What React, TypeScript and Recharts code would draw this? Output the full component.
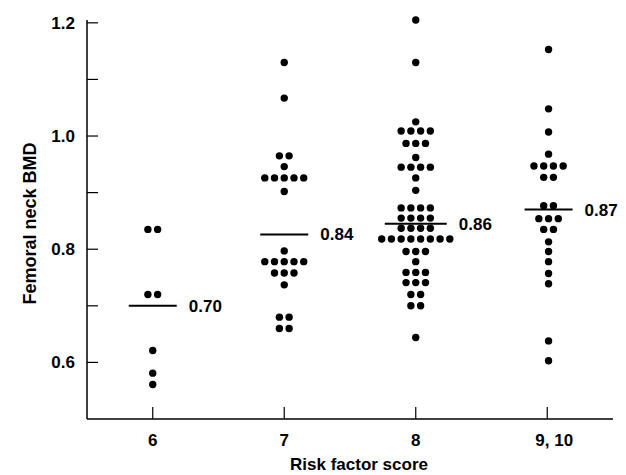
import React from "react";
import {
  ScatterChart,
  Scatter,
  XAxis,
  YAxis,
} from "recharts";

// risk factor score groups on the x axis
const categories = ["6", "7", "8", "9, 10"];
const groupX = [6, 7, 8, 9.01];

// femoral neck BMD per subject (equal values share a row)
const score6 = [0.835, 0.835, 0.72, 0.72, 0.621, 0.581, 0.561];
const score7 = [
  1.13, 1.067, 0.965, 0.965, 0.946, 0.926, 0.926, 0.926, 0.926, 0.926, 0.902,
  0.797, 0.778, 0.778, 0.778, 0.778, 0.778, 0.758, 0.758, 0.758, 0.737, 0.68,
  0.68, 0.66, 0.66,
];
const score8 = [
  1.205, 1.13, 1.025, 1.009, 1.009, 1.009, 1.009, 0.987, 0.987, 0.987, 0.962,
  0.945, 0.945, 0.945, 0.945, 0.926, 0.904, 0.873, 0.873, 0.873, 0.873, 0.855,
  0.855, 0.855, 0.855, 0.837, 0.837, 0.837, 0.837, 0.818, 0.818, 0.818, 0.818,
  0.818, 0.818, 0.818, 0.818, 0.796, 0.796, 0.796, 0.778, 0.759, 0.759, 0.759,
  0.741, 0.741, 0.741, 0.72, 0.72, 0.70, 0.70, 0.644,
];
const score9 = [
  1.153, 1.048, 1.007, 0.968, 0.947, 0.947, 0.947, 0.947, 0.927, 0.927, 0.877,
  0.877, 0.854, 0.854, 0.854, 0.835, 0.835, 0.813, 0.796, 0.778, 0.757, 0.739,
  0.638, 0.603,
];
const groups = [score6, score7, score8, score9];

// group mean bars (position as drawn) and their printed labels
const meanY = [0.7, 0.826, 0.845, 0.87];
const meanLabels = ["0.70", "0.84", "0.86", "0.87"];

const yTicks = [0.6, 0.7, 0.8, 0.9, 1.0, 1.1, 1.2];
const yLabels = ["0.6", "", "0.8", "", "1.0", "", "1.2"];

const FONT = "'Liberation Sans', Arial, sans-serif";
const DOT_STEP = 0.074; // horizontal spacing of dots in a row, in x units

// beeswarm: dots with the same value are spread out side by side
const dots = groups.flatMap((vals, g) => {
  const counts: Record<string, number> = {};
  vals.forEach((v) => (counts[v] = (counts[v] || 0) + 1));
  const seen: Record<string, number> = {};
  return vals.map((v) => {
    const i = seen[v] || 0;
    seen[v] = i + 1;
    return { x: groupX[g] + (i - (counts[v] - 1) / 2) * DOT_STEP, y: v };
  });
});

const means = meanY.map((y, i) => ({
  x: groupX[i],
  y,
  label: meanLabels[i],
  half: i === 2 ? 31 : 24,
}));

const XTick = (props: any) => {
  const { x, y, payload, index } = props;
  return (
    <g>
      <line x1={x} y1={y} x2={x} y2={y - 12} stroke="#000" strokeWidth={1.2} />
      <text
        x={x + (index === 3 ? 7 : 0)}
        y={y + 27}
        textAnchor="middle"
        fontFamily={FONT}
        fontWeight="bold"
        fontSize={17}
        fill="#000"
      >
        {categories[index] ?? payload.value}
      </text>
    </g>
  );
};

const YTick = (props: any) => {
  const { x, y, index } = props;
  return (
    <g>
      <line x1={x} y1={y} x2={x + 11} y2={y} stroke="#000" strokeWidth={1.2} />
      <text
        x={x - 12}
        y={y + 6}
        textAnchor="end"
        fontFamily={FONT}
        fontWeight="bold"
        fontSize={17}
        fill="#000"
      >
        {yLabels[index]}
      </text>
    </g>
  );
};

const Dot = (props: any) => <circle cx={props.cx} cy={props.cy} r={3.7} fill="#000" />;

const MeanBar = (props: any) => {
  const { cx, cy, payload } = props;
  return (
    <g>
      <line x1={cx - payload.half} y1={cy} x2={cx + payload.half} y2={cy} stroke="#000" strokeWidth={2} />
      <text
        x={cx + payload.half + 12}
        y={cy + 6}
        fontFamily={FONT}
        fontWeight="bold"
        fontSize={17}
        fill="#000"
      >
        {payload.label}
      </text>
    </g>
  );
};

export default function App() {
  return (
    <div style={{ position: "absolute", left: 0, top: 0, background: "#fff" }}>
      <ScatterChart
        width={626}
        height={475}
        margin={{ top: 20, right: 13, bottom: 0, left: 0 }}
      >
        <XAxis
          type="number"
          dataKey="x"
          domain={[5.5, 9.5]}
          ticks={[6, 7, 8, 9]}
          interval={0}
          tickSize={0}
          tickMargin={0}
          tickLine={false}
          tick={<XTick />}
          height={56}
          axisLine={{ stroke: "#000", strokeWidth: 1.5 }}
          label={(p: any) => {
            const vb = p.viewBox;
            return (
              <text
                x={vb.x + vb.width / 2 + 9}
                y={vb.y + 51}
                textAnchor="middle"
                fontFamily={FONT}
                fontWeight="bold"
                fontSize={17}
                fill="#000"
              >
                Risk factor score
              </text>
            );
          }}
        />
        <YAxis
          type="number"
          dataKey="y"
          domain={[0.5, 1.2]}
          ticks={yTicks}
          interval={0}
          tickSize={0}
          tickMargin={0}
          tickLine={false}
          tick={<YTick />}
          width={87}
          axisLine={{ stroke: "#000", strokeWidth: 1.5 }}
          label={(p: any) => {
            const vb = p.viewBox;
            const cx = vb.x + 30;
            const cy = vb.y + vb.height / 2 + 4;
            return (
              <text
                x={cx}
                y={cy}
                transform={`rotate(-90 ${cx} ${cy})`}
                textAnchor="middle"
                dominantBaseline="central"
                fontFamily={FONT}
                fontWeight="bold"
                fontSize={18}
                fill="#000"
              >
                Femoral neck BMD
              </text>
            );
          }}
        />
        <Scatter data={dots} shape={<Dot />} isAnimationActive={false} />
        <Scatter data={means} shape={<MeanBar />} isAnimationActive={false} />
      </ScatterChart>
    </div>
  );
}
